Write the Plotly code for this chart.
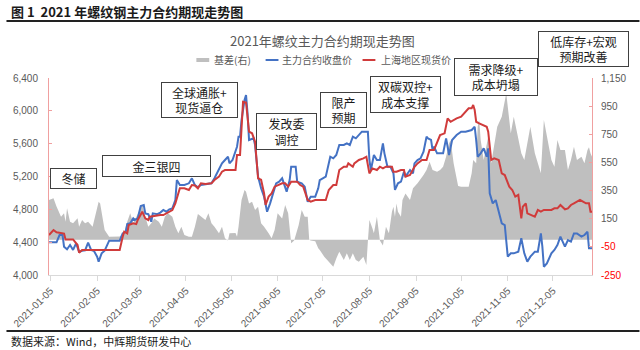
import plotly.graph_objects as go

YEAR = "2021-"

# 主力合约收盘价 (futures close)
fut_dates = ["01-04","01-09","01-11","01-13","01-14","01-16","01-18","01-20","01-22","01-24","01-26","01-28","01-30",
             "02-01","02-03","02-05","02-06","02-08","02-10","02-13","02-20","02-22","02-24","02-25","02-27",
             "03-01","03-02","03-04","03-06","03-08","03-09","03-11","03-13","03-14","03-17","03-19","03-21","03-23","03-25","03-27","03-29","03-30",
             "04-01","04-04","04-07","04-09","04-11","04-13","04-15","04-18","04-22","04-24","04-27","04-29",
             "05-01","05-03","05-04","05-06","05-09","05-10","05-11","05-12","05-14","05-15","05-16","05-17","05-20","05-21","05-23","05-25","05-27","05-29","05-31",
             "06-02","06-04","06-06","06-08","06-11","06-13","06-14","06-17","06-18","06-21","06-23","06-25","06-27","06-30",
             "07-02","07-03","07-05","07-07","07-10","07-12","07-14","07-16","07-19","07-21","07-23","07-25","07-27","07-29","07-31",
             "08-02","08-04","08-05","08-06","08-08","08-10","08-12","08-14","08-15","08-17","08-19","08-21","08-22","08-24","08-26","08-28","08-29",
             "09-01","09-03","09-04","09-06","09-08","09-10","09-12","09-13","09-15","09-16","09-17","09-19","09-23","09-25","09-26","09-27","09-29",
             "10-02","10-05","10-08","10-12","10-14","10-15","10-16","10-18","10-20","10-22","10-23","10-24","10-26","10-28","10-29",
             "11-01","11-03","11-04","11-05","11-07","11-09","11-12","11-14","11-16","11-18","11-20","11-23","11-25","11-27","11-28","11-29",
             "12-01","12-04","12-06","12-08","12-10","12-13","12-15","12-17","12-19","12-21","12-24","12-26","12-28","12-29","12-31"]
fut_close = [4398,4398,4487,4487,4345,4313,4365,4305,4386,4284,4296,4300,4393,
             4305,4290,4223,4162,4264,4296,4418,4418,4507,4527,4621,4630,
             4690,4670,4690,4840,4852,4751,4741,4649,4751,4741,4760,4792,4771,4800,4812,4914,5157,
             5096,5096,5117,5178,5096,5068,5096,5108,5117,5178,5279,5360,
             5401,5441,5360,5401,5563,5685,5685,5888,6132,6193,5969,5644,5665,5584,5198,5056,4954,4771,4873,
             4995,5117,5137,5178,5015,5157,5319,5319,5137,5117,5076,4893,4954,4954,
             5056,5157,5178,5198,5441,5421,5462,5584,5584,5604,5584,5685,5665,5705,5746,
             5746,5746,5401,5279,5462,5401,5401,5604,5482,5319,5319,5238,5036,5117,5137,5258,5198,
             5279,5238,5360,5401,5421,5502,5685,5665,5645,5523,5563,5482,5482,5665,5563,5462,5645,
             5705,5746,5746,5766,5806,5644,5441,5482,5543,5441,5543,4995,4873,4913,4832,
             4629,4609,4426,4223,4264,4264,4284,4447,4264,4162,4223,4284,4284,4507,4345,4101,
             4142,4264,4305,4365,4467,4345,4426,4406,4507,4507,4467,4487,4527,4325,4325]

# 上海地区现货价 (Shanghai spot)
spot_dates = ["01-04","01-07","01-09","01-12","01-14","01-15","01-20","01-23","01-24","01-26",
              "02-20","02-22","02-23","02-25","02-26",
              "03-01","03-03","03-04","03-07","03-09","03-11","03-12","03-15","03-19","03-21","03-24","03-27","03-29",
              "04-01","04-04","04-07","04-09","04-11","04-13","04-15","04-18","04-22","04-24","04-27","04-29",
              "05-01","05-08","05-09","05-11","05-12","05-13","05-15","05-17","05-19","05-21","05-23","05-25","05-27","05-28","05-30",
              "06-01","06-03","06-05","06-08","06-10","06-12","06-14","06-18","06-20","06-22","06-25","06-27","06-30",
              "07-07","07-09","07-12","07-14","07-16","07-19","07-21","07-22","07-25","07-26","07-29",
              "08-01","08-03","08-05","08-07","08-10","08-12","08-14","08-16","08-20","08-21","08-23","08-26","08-28","08-29",
              "09-01","09-04","09-06","09-09","09-12","09-14","09-17","09-19","09-21","09-24","09-26","09-28","09-30",
              "10-02","10-05","10-07","10-10","10-12","10-13","10-14","10-15","10-17","10-19","10-22","10-23","10-24","10-25","10-27","10-30","10-31",
              "11-01","11-03","11-06","11-08","11-10","11-12","11-14","11-15","11-17","11-18","11-20","11-23","11-25","11-27","11-29",
              "12-04","12-06","12-08","12-10","12-13","12-15","12-17","12-19","12-23","12-25","12-27","12-29","12-30","12-31"]
spot_price = [4487,4548,4520,4510,4505,4434,4434,4365,4272,4305,
              4305,4467,4527,4507,4609,
              4629,4620,4670,4771,4690,4670,4710,4720,4730,4730,4759,4790,4873,
              5056,5056,5035,5096,5090,5056,5117,5108,5117,5157,5198,5258,
              5278,5278,5462,5462,5786,6111,6100,5746,5726,5624,5178,5160,4995,4853,4955,
              4995,5076,5096,5117,5117,5076,5137,5137,5096,5076,4914,4894,4914,
              4914,5036,5096,5096,5279,5319,5319,5360,5319,5360,5401,
              5421,5441,5238,5299,5279,5319,5299,5319,5319,5258,5258,5279,5279,5198,
              5218,5319,5360,5401,5401,5523,5523,5604,5705,5726,5908,5867,5888,
              5908,5928,5969,6030,6030,6071,6010,5867,5847,5827,5806,5746,5563,5401,5421,5401,5319,
              5238,5218,5076,5036,4954,4975,4690,4832,4873,4751,4731,4710,4792,4771,4792,
              4792,4812,4812,4853,4800,4812,4853,4873,4914,4893,4873,4873,4771,4771]

# 基差(右) (basis, right axis)
basis_dates = ["01-04","01-07","01-09","01-12","01-14","01-15","01-16","01-18","01-20","01-23","01-24","01-26","01-28","01-30",
               "02-02","02-04","02-06","02-07","02-09","02-10","02-13","02-20","02-23","02-25","02-27",
               "03-01","03-02","03-04","03-07","03-09","03-11","03-13","03-15","03-18","03-20","03-22","03-24","03-27","03-29","03-31",
               "04-02","04-04","04-07","04-09","04-11","04-13","04-15","04-18","04-20","04-22","04-24","04-27","04-29",
               "05-01","05-03","05-04","05-08","05-09","05-10","05-12","05-14","05-15","05-17","05-19","05-21","05-23","05-25","05-27","05-30",
               "06-01","06-03","06-05","06-08","06-10","06-12","06-14","06-16","06-19","06-21","06-22","06-23","06-25","06-26","06-27","06-30",
               "07-02","07-03","07-06","07-10","07-12","07-14","07-16","07-19","07-21","07-23","07-25","07-27","07-29",
               "08-01","08-03","08-04","08-05","08-07","08-08","08-10","08-12","08-14","08-16","08-18","08-20","08-21","08-22","08-23","08-24","08-26","08-27","08-29",
               "09-01","09-03","09-06","09-10","09-12","09-14","09-16","09-19","09-21","09-23","09-25","09-27","09-28","09-30",
               "10-02","10-03","10-05","10-07","10-10","10-12","10-13","10-15","10-16","10-17","10-18","10-20","10-23","10-25","10-27","10-29",
               "11-01","11-03","11-04","11-05","11-07","11-09","11-12","11-14","11-16","11-18","11-20","11-23","11-25","11-27","11-29",
               "12-01","12-04","12-06","12-08","12-10","12-13","12-15","12-17","12-19","12-21","12-24","12-26","12-28","12-29","12-30","12-31"]
basis = [283,295,236,164,188,129,224,129,117,153,93,141,117,129,
         93,188,271,259,141,70,22,24,46,129,188,
         117,141,188,247,164,93,117,152,129,93,164,188,164,93,46,
         93,34,22,22,93,183,164,141,188,117,93,46,93,
         11,-5,46,48,22,93,283,354,342,259,271,212,235,117,93,46,
         11,70,188,152,247,188,-25,-5,105,212,188,164,164,0,-5,-10,
         -60,-72,-120,-167,-191,-132,-84,-144,-96,-144,-96,-144,-155,
         -120,-179,-10,141,82,46,164,-5,-40,93,46,200,235,164,259,200,164,283,330,
         283,366,402,461,496,555,496,484,496,520,591,686,709,544,
         449,383,378,378,378,473,567,544,804,852,709,567,733,544,686,804,
         875,994,1041,946,757,875,733,615,567,686,804,615,544,473,852,
         733,567,520,709,638,638,496,567,662,567,591,544,638,658,615,591]

month_ticks = ["01-05","02-05","03-05","04-05","05-05","06-05","07-05","08-05","09-05","10-05","11-05","12-05"]
left_ticks = [4000, 4400, 4800, 5200, 5600, 6000, 6400]
right_ticks = [-250, -50, 150, 350, 550, 750, 950, 1150]
legend_names = ["基差(右)", "主力合约收盘价", "上海地区现货价"]

BLUE = "#4472C4"
RED = "#D03B3B"
GREY = "#BFBFBF"
TEXT = "#595959"
AXIS_RED = "#F0A0A0"

# plot area in pixels (used to place page decorations in paper units)
L, R, T, B = 43, 592, 78, 275
W, H = R - L, B - T


def px(x):
    return (x - L) / W


def py(y):
    return (B - y) / H


fig = go.Figure()
# basis area lives on the base axis so the price lines (overlaid axis) draw above it
fig.add_trace(go.Scatter(
    x=[YEAR + d for d in basis_dates], y=basis, name=legend_names[0], yaxis="y",
    mode="lines", line=dict(width=0, color=GREY), fill="tozeroy", fillcolor=GREY,
    showlegend=False,
))
fig.add_trace(go.Scatter(
    x=[YEAR + d for d in fut_dates], y=fut_close, name=legend_names[1], yaxis="y2",
    mode="lines", line=dict(width=2, color=BLUE), showlegend=False,
))
fig.add_trace(go.Scatter(
    x=[YEAR + d for d in spot_dates], y=spot_price, name=legend_names[2], yaxis="y2",
    mode="lines", line=dict(width=2, color=RED), showlegend=False,
))

right_text = [(f"<span style='color:#FF0000'>{v:,}</span>" if v < 0 else f"{v:,}") for v in right_ticks]

fig.update_layout(
    width=640, height=350,
    margin=dict(l=L, r=640 - R, t=T, b=350 - B),
    paper_bgcolor="white", plot_bgcolor="white",
    font=dict(family="Noto Sans CJK SC", color=TEXT, size=10),
    showlegend=False,
    xaxis=dict(
        type="date", range=["2021-01-04", "2021-12-31"],
        tickvals=[YEAR + d for d in month_ticks], tickformat="%Y-%m-%d", tickangle=-45,
        tickfont=dict(family="Liberation Sans", size=10, color=TEXT),
        showgrid=False, zeroline=False, showline=True, linecolor="#D9D9D9", linewidth=1,
        ticks="outside", ticklen=5, tickcolor="#D9D9D9",
    ),
    yaxis=dict(
        side="right", range=[-250, 1150],
        tickvals=right_ticks, ticktext=right_text,
        tickfont=dict(family="Liberation Sans", size=10, color=TEXT),
        showgrid=False, zeroline=False, showline=True, linecolor=AXIS_RED, linewidth=1,
        ticks="inside", ticklen=3, tickcolor=AXIS_RED, ticklabelstandoff=6,
    ),
    yaxis2=dict(
        overlaying="y", side="left", range=[4000, 6400], tickvals=left_ticks, tickformat=",d",
        tickfont=dict(family="Liberation Sans", size=10, color=TEXT),
        showgrid=False, zeroline=False, showline=True, linecolor=AXIS_RED, linewidth=1,
        ticks="inside", ticklen=3, tickcolor=AXIS_RED, ticklabelstandoff=8,
    ),
)

# page header / footer rules
for yy in (21, 331):
    fig.add_shape(type="line", xref="paper", yref="paper", x0=px(0), x1=px(640),
                  y0=py(yy), y1=py(yy), line=dict(color="#222222", width=2))

fig.add_annotation(text="<b>图 1  2021 年螺纹钢主力合约期现走势图</b>", xref="paper", yref="paper",
                   x=px(3), y=py(11), xanchor="left", yanchor="middle", showarrow=False,
                   font=dict(size=13, color="#1a1a1a"))
fig.add_annotation(text="2021年螺纹主力合约期现走势图", xref="paper", yref="paper",
                   x=px(320), y=py(40), xanchor="center", yanchor="middle", showarrow=False,
                   font=dict(size=13, color=TEXT))
fig.add_annotation(text="数据来源：Wind，中辉期货研发中心", xref="paper", yref="paper",
                   x=px(3), y=py(341), xanchor="left", yanchor="middle", showarrow=False,
                   font=dict(size=11, color="#1a1a1a"))

# compact legend row: symbol start x, text start x
LEG_Y = 60
legend_pos = [(192, 208), (262, 277), (360, 377)]
fig.add_shape(type="rect", xref="paper", yref="paper",
              x0=px(legend_pos[0][0]), x1=px(legend_pos[0][0] + 13),
              y0=py(LEG_Y + 2), y1=py(LEG_Y - 2), fillcolor=GREY, line=dict(width=0))
for (sx, _), colour in zip(legend_pos[1:], (BLUE, RED)):
    fig.add_shape(type="line", xref="paper", yref="paper", x0=px(sx), x1=px(sx + 13),
                  y0=py(LEG_Y), y1=py(LEG_Y), line=dict(color=colour, width=2))
for (_, tx), name in zip(legend_pos, legend_names):
    fig.add_annotation(text=name, xref="paper", yref="paper", x=px(tx), y=py(LEG_Y),
                       xanchor="left", yanchor="middle", showarrow=False,
                       font=dict(size=10, color=TEXT))

# event boxes: (text, centre x, centre y, width, height) in pixels
events = [
    ("冬储", 67.5, 178.5, 47, 21),
    ("金三银四", 151.5, 166, 109, 22),
    ("全球通胀+<br>现货逼仓", 195.5, 100, 77, 36),
    ("发改委<br>调控", 283.5, 131.5, 61, 37),
    ("限产<br>预期", 340.5, 110, 47, 36),
    ("双碳双控+<br>成本支撑", 403.5, 94.5, 71, 37),
    ("需求降级+<br>成本坍塌", 495, 77, 84, 38),
    ("低库存+宏观<br>预期改善", 583.5, 49, 91, 36),
]
for text, cx, cy, bw, bh in events:
    fig.add_annotation(text=text, xref="paper", yref="paper", x=px(cx), y=py(cy),
                       xanchor="center", yanchor="middle", showarrow=False,
                       width=bw - 2, height=bh - 2, borderpad=0,
                       bgcolor="white", bordercolor="#404040", borderwidth=1,
                       font=dict(size=12, color="#1a1a1a"))

fig.write_html("out.html")
